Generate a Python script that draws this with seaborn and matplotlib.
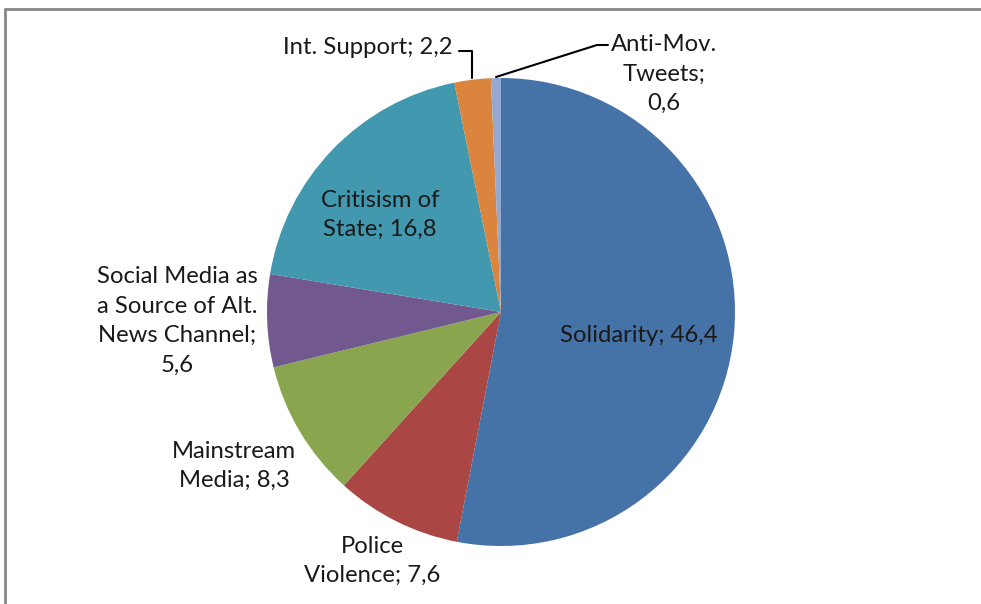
import matplotlib
matplotlib.use("Agg")
import matplotlib.pyplot as plt
import seaborn as sns
from matplotlib.lines import Line2D

sns.set_theme(style="white")
plt.rcParams['font.family'] = ['Lato', 'DejaVu Sans']

categories = ["Solidarity", "Police\nViolence", "Mainstream\nMedia",
              "Social Media as\na Source of Alt.\nNews Channel;\n", "Critisism of\nState",
              "Int. Support", "Anti-Mov.\nTweets;\n"]
values = [46.4, 7.6, 8.3, 5.6, 16.8, 2.2, 0.6]
colors = ["#4572A7", "#AA4643", "#89A54E", "#71588F", "#4198AF", "#DB843D", "#93A9CF"]

W, H = 981, 604
fig = plt.figure(figsize=(W / 100, H / 100), dpi=100)
ax = fig.add_axes([0, 0, 1, 1])

cx, cy, r = 501, H - 312, 234
ax.pie(values, colors=colors, startangle=90, counterclock=False,
       center=(cx, cy), radius=r, frame=True,
       wedgeprops=dict(linewidth=0))
ax.set_xlim(0, W)
ax.set_ylim(0, H)
ax.set_aspect('equal')
ax.axis('off')

def fmt(v):
    return f"{v:.1f}".replace('.', ',')

def label(i):
    c = categories[i]
    if c.endswith("\n"):
        return c + fmt(values[i])
    return f"{c}; {fmt(values[i])}"

fs = 17.2
pos = {0: (639, 336), 1: (372, 561), 2: (234, 466), 3: (177, 321),
       4: (380, 215), 5: (368, 48), 6: (664, 74)}
for i, (x, y) in pos.items():
    ax.text(x, H - y, label(i), ha='center', va='center', fontsize=fs,
            color='#1a1a1a', linespacing=1.5)

# leader lines
ax.plot([459, 472, 472], [H - 51, H - 51, H - 78], color='black', lw=1.5)
ax.plot([608, 597, 496], [H - 45, H - 45, H - 77], color='black', lw=1.5)

# chart frame (partially visible)
fig.add_artist(Line2D([5 / W, 1], [1 - 9 / H, 1 - 9 / H], color='#888888', lw=2))
fig.add_artist(Line2D([5 / W, 5 / W], [0, 1 - 9 / H], color='#888888', lw=2))

fig.savefig("out.png", dpi=100, facecolor='white')
